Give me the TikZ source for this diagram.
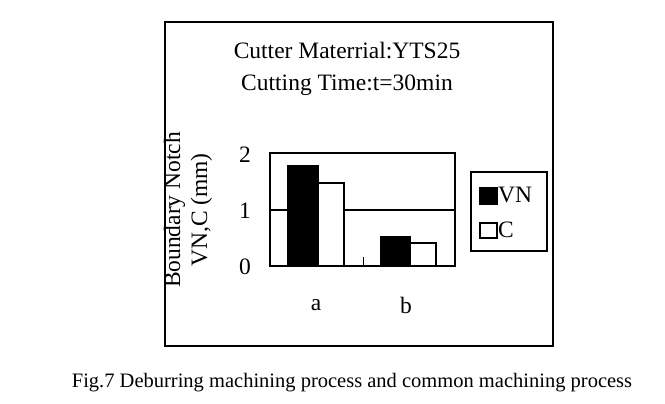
\documentclass[tikz,border=0pt]{standalone}
\usepackage{fontspec}
\setmainfont{Liberation Serif}
\begin{document}
\begin{tikzpicture}[x=1pt,y=-1pt,
  lbl/.style={inner sep=0pt,font=\fontsize{23.5}{27}\selectfont},
  vn/.style={fill=black,draw=black,line width=1.2pt},
  cc/.style={fill=white,draw=black,line width=1.2pt}]
\useasboundingbox (0,0) rectangle (665,404);
\draw[line width=1.5pt] (165,22) rectangle (553,346);
\node[lbl] (t1) at (347,51) {Cutter Materrial:YTS25};
\node[lbl] (t2) at (347,85) {Cutting Time:t=30min};
\node[lbl,rotate=90,align=center] (yt) at (188,210) {Boundary Notch\\VN,C (mm)};
\node[lbl] (y2) at (245,155) {2};
\node[lbl] (y1) at (245,211) {1};
\node[lbl] (y0) at (245,267) {0};
\draw[line width=1.2pt] (270,210) -- (455,210);
\draw[vn] (288,266) rectangle (318,166);
\draw[cc] (318,266) rectangle (344,183);
\draw[line width=1pt] (363,266) -- (363,257);
\draw[vn] (381,266) rectangle (410,237);
\draw[cc] (410,266) rectangle (436,243);
\draw[line width=1.5pt] (270,153) rectangle (455,266);
\node[lbl] (a) at (316,305) {a};
\node[lbl] (b) at (406,305) {b};
\draw[line width=1.5pt] (471,172) rectangle (547,251);
\draw[vn] (480,188) rectangle (497,204);
\node[lbl,anchor=west] (lv) at (498,195) {VN};
\draw[cc] (480,223) rectangle (497,238);
\node[lbl,anchor=west] (lc) at (498,230) {C};
\node[inner sep=0pt,font=\fontsize{20.5}{23}\selectfont] (cap) at (352,383) {Fig.7 Deburring machining process and common machining process};
\end{tikzpicture}
\end{document}
